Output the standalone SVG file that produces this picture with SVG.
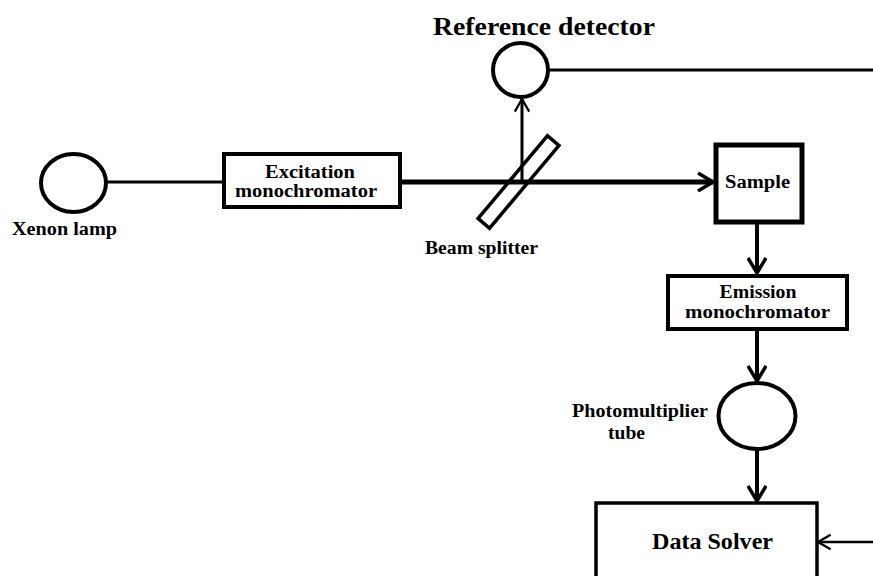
<svg xmlns="http://www.w3.org/2000/svg" width="873" height="576" viewBox="0 0 873 576">
  <style>
    .lbl { font-family: "Liberation Serif", "Times New Roman", serif; font-weight: bold; fill: #000; text-anchor: middle; }
    .box { fill: #fff; stroke: #000; }
    .ring { fill: #fff; stroke: #000; stroke-width: 4; }
    .wire { fill: none; stroke: #000; }
  </style>
  <defs>
    <!-- open chevron arrowheads -->
    <marker id="chev" viewBox="0 0 20 20" refX="17" refY="10" markerWidth="20" markerHeight="20" markerUnits="userSpaceOnUse" orient="auto">
      <path d="M2,1 L17,10 L2,19" fill="none" stroke="#000" stroke-width="3.5"/>
    </marker>
    <marker id="chevThin" viewBox="0 0 20 20" refX="17" refY="10" markerWidth="18" markerHeight="18" markerUnits="userSpaceOnUse" orient="auto">
      <path d="M3,2 L17,10 L3,18" fill="none" stroke="#000" stroke-width="2.5"/>
    </marker>
  </defs>

  <rect width="873" height="576" fill="#fff"/>

  <!-- connectors -->
  <g id="connectors">
    <line class="wire" x1="106" y1="182" x2="223" y2="182" stroke-width="3"/>
    <line class="wire" x1="400" y1="182" x2="713" y2="182" stroke-width="5" marker-end="url(#chev)"/>
    <line class="wire" x1="522" y1="182" x2="522" y2="99" stroke-width="3" marker-end="url(#chevThin)"/>
    <line class="wire" x1="548" y1="70" x2="873" y2="70" stroke-width="3"/>
    <line class="wire" x1="757" y1="223" x2="757" y2="273" stroke-width="4" marker-end="url(#chev)"/>
    <line class="wire" x1="757" y1="330" x2="757" y2="381" stroke-width="4" marker-end="url(#chev)"/>
    <line class="wire" x1="757" y1="450" x2="757" y2="501" stroke-width="4" marker-end="url(#chev)"/>
    <line class="wire" x1="873" y1="542" x2="818" y2="542" stroke-width="2.5" marker-end="url(#chevThin)"/>
  </g>

  <!-- light source -->
  <g id="xenon-lamp">
    <ellipse class="ring" cx="73.5" cy="183" rx="32.5" ry="29"/>
    <text class="lbl" x="64.5" y="235" font-size="18" textLength="105" lengthAdjust="spacingAndGlyphs">Xenon lamp</text>
  </g>

  <g id="excitation-monochromator">
    <rect class="box" x="224" y="154" width="176" height="53" stroke-width="4"/>
    <text class="lbl" x="310" y="178" font-size="18" textLength="90" lengthAdjust="spacingAndGlyphs">Excitation</text>
    <text class="lbl" x="306" y="197" font-size="18" textLength="142" lengthAdjust="spacingAndGlyphs">monochromator</text>
  </g>

  <g id="beam-splitter">
    <rect x="-54" y="-7.5" width="108" height="15" fill="none" stroke="#000" stroke-width="3.5" transform="translate(518.5 182) rotate(-50)"/>
    <text class="lbl" x="481.5" y="254" font-size="18" textLength="113" lengthAdjust="spacingAndGlyphs">Beam splitter</text>
  </g>

  <g id="reference-detector">
    <ellipse class="ring" cx="520.5" cy="70" rx="27.5" ry="27"/>
    <text class="lbl" x="544" y="35" font-size="26" textLength="222" lengthAdjust="spacingAndGlyphs">Reference detector</text>
  </g>

  <g id="sample">
    <rect class="box" x="716" y="145" width="86" height="77" stroke-width="5"/>
    <text class="lbl" x="757.5" y="188" font-size="18" textLength="65" lengthAdjust="spacingAndGlyphs">Sample</text>
  </g>

  <g id="emission-monochromator">
    <rect class="box" x="668" y="276" width="179" height="53" stroke-width="4"/>
    <text class="lbl" x="758" y="298" font-size="18" textLength="77" lengthAdjust="spacingAndGlyphs">Emission</text>
    <text class="lbl" x="757.5" y="318" font-size="18" textLength="145" lengthAdjust="spacingAndGlyphs">monochromator</text>
  </g>

  <g id="photomultiplier-tube">
    <ellipse class="ring" cx="757" cy="416" rx="38.5" ry="33"/>
    <text class="lbl" x="640" y="417" font-size="18" textLength="136" lengthAdjust="spacingAndGlyphs">Photomultiplier</text>
    <text class="lbl" x="626.5" y="439" font-size="18" textLength="37" lengthAdjust="spacingAndGlyphs">tube</text>
  </g>

  <g id="data-solver">
    <rect class="box" x="596" y="503" width="221" height="90" stroke-width="3.5"/>
    <text class="lbl" x="712.5" y="549" font-size="23" textLength="121" lengthAdjust="spacingAndGlyphs">Data Solver</text>
  </g>
</svg>
